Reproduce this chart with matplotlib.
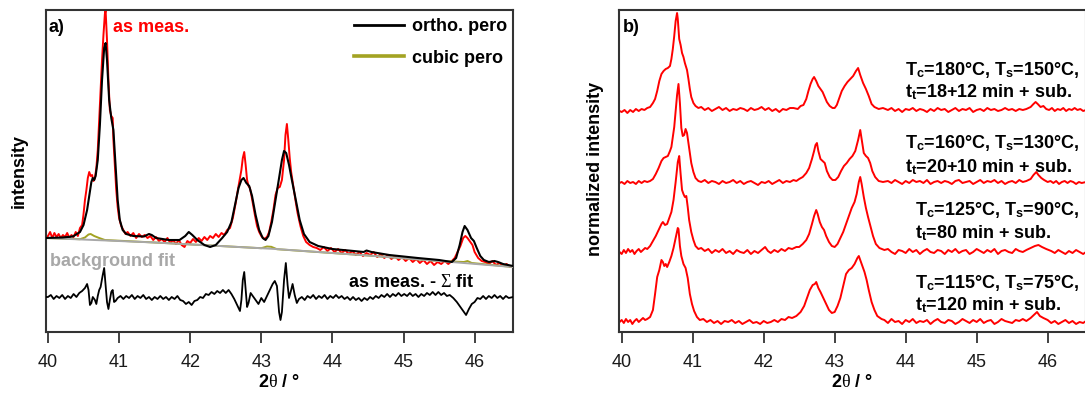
import matplotlib
matplotlib.use("Agg")
import matplotlib.pyplot as plt
from matplotlib.font_manager import FontProperties

plt.rcParams['font.family'] = ['Liberation Sans', 'DejaVu Sans']
plt.rcParams['mathtext.fontset'] = 'custom'
plt.rcParams['mathtext.rm'] = 'Liberation Serif'
plt.rcParams['mathtext.it'] = 'Liberation Serif'
plt.rcParams['mathtext.bf'] = 'Liberation Sans:bold'

# ---------------- panel a: measured pattern and fit (2theta in deg, intensity a.u.)
meas_a = [
    (39.97, 95), (40.00, 96), (40.03, 100), (40.06, 94), (40.09, 99), (40.12, 95), (40.15, 98), (40.18, 94),
    (40.21, 97), (40.24, 95), (40.27, 99), (40.30, 94), (40.33, 97), (40.36, 95), (40.39, 100), (40.42, 96),
    (40.45, 104), (40.48, 107), (40.50, 118), (40.52, 132), (40.54, 142), (40.56, 154), (40.58, 160),
    (40.60, 156), (40.62, 157), (40.64, 151), (40.66, 154), (40.68, 164), (40.70, 182), (40.72, 212),
    (40.74, 242), (40.76, 272), (40.78, 297), (40.80, 318), (40.81, 322), (40.83, 292), (40.85, 252),
    (40.87, 222), (40.89, 216), (40.91, 214), (40.92, 192), (40.94, 167), (40.96, 142), (40.98, 125),
    (41.00, 114), (41.03, 106), (41.06, 102), (41.09, 98), (41.12, 100), (41.16, 96), (41.20, 99), (41.24, 94),
    (41.28, 98), (41.32, 95), (41.36, 97), (41.40, 94), (41.44, 96), (41.48, 92), (41.52, 95), (41.56, 91),
    (41.60, 93), (41.64, 90), (41.68, 94), (41.72, 89), (41.76, 92), (41.80, 88), (41.84, 92), (41.88, 87),
    (41.92, 85), (41.96, 91), (42.00, 89), (42.04, 93), (42.08, 90), (42.12, 94), (42.16, 91), (42.20, 95),
    (42.24, 92), (42.28, 96), (42.32, 94), (42.36, 98), (42.40, 95), (42.44, 99), (42.48, 97), (42.52, 102),
    (42.56, 104), (42.60, 114), (42.64, 129), (42.67, 142), (42.70, 154), (42.72, 162), (42.74, 174),
    (42.76, 180), (42.78, 167), (42.80, 152), (42.82, 146), (42.84, 144), (42.86, 137), (42.88, 129),
    (42.91, 117), (42.94, 106), (42.97, 100), (43.00, 96), (43.04, 93), (43.08, 95), (43.11, 100),
    (43.14, 110), (43.17, 122), (43.20, 137), (43.23, 144), (43.26, 145), (43.29, 152), (43.32, 172),
    (43.34, 197), (43.36, 208), (43.38, 192), (43.40, 174), (43.42, 160), (43.45, 146), (43.48, 132),
    (43.51, 119), (43.55, 106), (43.59, 96), (43.63, 90), (43.68, 87), (43.73, 85), (43.78, 84), (43.83, 82),
    (43.88, 85), (43.93, 81), (43.98, 84), (44.03, 80), (44.08, 83), (44.13, 79), (44.18, 82), (44.23, 78),
    (44.28, 81), (44.33, 77), (44.38, 80), (44.43, 76), (44.48, 79), (44.53, 77), (44.58, 80), (44.63, 75),
    (44.68, 78), (44.73, 74), (44.78, 77), (44.83, 73), (44.88, 76), (44.93, 72), (44.98, 75), (45.03, 71),
    (45.08, 74), (45.13, 70), (45.18, 73), (45.23, 69), (45.28, 72), (45.33, 68), (45.38, 71), (45.43, 67),
    (45.48, 70), (45.53, 68), (45.58, 71), (45.63, 68), (45.68, 71), (45.72, 74), (45.76, 80), (45.80, 86),
    (45.84, 94), (45.87, 96), (45.90, 94), (45.94, 90), (45.97, 87), (46.00, 80), (46.05, 74), (46.10, 71),
    (46.15, 70), (46.20, 68), (46.25, 71), (46.30, 67), (46.35, 69), (46.40, 66), (46.45, 68), (46.50, 65),
    (46.54, 66),
]

ortho_fit = [
    (39.97, 94), (40.20, 94.5), (40.35, 95.5), (40.45, 100), (40.50, 107), (40.55, 122), (40.58, 136),
    (40.61, 150), (40.63, 154), (40.65, 152), (40.67, 156), (40.70, 172), (40.73, 207), (40.76, 252),
    (40.79, 284), (40.81, 289), (40.83, 272), (40.86, 232), (40.89, 214), (40.92, 202), (40.95, 167),
    (40.98, 132), (41.01, 112), (41.05, 102), (41.10, 98), (41.20, 96), (41.35, 95.5), (41.42, 98),
    (41.46, 97), (41.52, 94), (41.70, 92), (41.85, 92), (41.93, 96), (41.98, 100), (42.03, 97), (42.10, 92),
    (42.20, 87), (42.28, 85), (42.36, 87), (42.45, 94), (42.52, 100), (42.58, 110), (42.63, 127), (42.68, 144),
    (42.72, 152), (42.75, 154), (42.79, 149), (42.83, 146), (42.87, 136), (42.92, 117), (42.97, 102),
    (43.02, 94), (43.06, 92), (43.10, 96), (43.15, 110), (43.20, 132), (43.25, 154), (43.29, 172),
    (43.32, 181), (43.35, 179), (43.39, 167), (43.43, 152), (43.48, 134), (43.54, 112), (43.60, 98),
    (43.68, 90), (43.80, 86), (44.00, 83), (44.30, 81), (44.44, 80), (44.48, 81.5), (44.55, 80), (44.80, 77),
    (45.20, 74), (45.50, 72), (45.68, 70), (45.74, 74), (45.79, 87), (45.83, 100), (45.86, 106), (45.90, 102),
    (45.95, 94), (45.99, 91), (46.03, 84), (46.08, 76), (46.13, 72), (46.20, 70), (46.28, 71), (46.33, 70),
    (46.40, 68), (46.54, 66),
]

cubic_fit = [
    (39.97, 94), (40.45, 92.8), (40.52, 94.5), (40.57, 97.5), (40.60, 98), (40.65, 96), (40.72, 94),
    (40.80, 92), (41.50, 89.5), (43.00, 83.8), (43.08, 85.5), (43.14, 85.2), (43.22, 82.8), (44.50, 76.5),
    (45.50, 71), (45.85, 70), (45.90, 71), (45.96, 69), (46.54, 65),
]

background = [(39.97, 94), (41.50, 89.5), (43.20, 83), (44.50, 76.5), (45.50, 71), (46.54, 65)]

residual = [
    (39.97, 35), (40.00, 35), (40.04, 37), (40.08, 33), (40.12, 36), (40.16, 34), (40.20, 37), (40.24, 33),
    (40.28, 36), (40.32, 34), (40.36, 38), (40.40, 35), (40.44, 39), (40.48, 41), (40.52, 44), (40.55, 48),
    (40.57, 42), (40.59, 27), (40.61, 29), (40.63, 35), (40.66, 32), (40.68, 28), (40.70, 36), (40.72, 42),
    (40.74, 45), (40.77, 57), (40.79, 64), (40.81, 47), (40.83, 30), (40.85, 23), (40.87, 32), (40.89, 40),
    (40.91, 42), (40.93, 30), (40.95, 31), (40.98, 34), (41.02, 36), (41.06, 33), (41.10, 36), (41.14, 34),
    (41.18, 37), (41.22, 33), (41.26, 36), (41.30, 34), (41.34, 37), (41.38, 33), (41.42, 35), (41.46, 32),
    (41.50, 35), (41.54, 33), (41.58, 36), (41.62, 33), (41.66, 35), (41.70, 32), (41.74, 35), (41.78, 33),
    (41.82, 36), (41.86, 32), (41.90, 31), (41.94, 28), (41.98, 30), (42.02, 27), (42.06, 31), (42.10, 32),
    (42.14, 35), (42.18, 34), (42.22, 38), (42.26, 37), (42.30, 40), (42.34, 38), (42.38, 41), (42.42, 39),
    (42.46, 42), (42.50, 39), (42.54, 42), (42.58, 38), (42.62, 33), (42.66, 27), (42.70, 21), (42.72, 32),
    (42.74, 52), (42.76, 60), (42.78, 42), (42.80, 25), (42.82, 29), (42.85, 39), (42.88, 36), (42.92, 32),
    (42.96, 28), (43.00, 34), (43.04, 30), (43.08, 36), (43.12, 42), (43.16, 48), (43.19, 51), (43.22, 46),
    (43.25, 20), (43.27, 12), (43.29, 20), (43.32, 52), (43.345, 69), (43.37, 47), (43.39, 34), (43.42, 42),
    (43.44, 48), (43.47, 37), (43.50, 29), (43.53, 33), (43.57, 35), (43.61, 32), (43.65, 36), (43.69, 34),
    (43.73, 37), (43.77, 33), (43.81, 36), (43.85, 34), (43.89, 37), (43.93, 33), (43.97, 36), (44.01, 34),
    (44.05, 37), (44.09, 34), (44.13, 36), (44.17, 33), (44.21, 35), (44.25, 32), (44.29, 35), (44.33, 32),
    (44.37, 34), (44.41, 31), (44.45, 34), (44.49, 32), (44.53, 35), (44.57, 33), (44.61, 36), (44.65, 34),
    (44.69, 37), (44.73, 35), (44.77, 38), (44.81, 35), (44.85, 38), (44.89, 36), (44.93, 39), (44.97, 36),
    (45.01, 38), (45.05, 36), (45.09, 39), (45.13, 36), (45.17, 38), (45.21, 35), (45.25, 38), (45.29, 36),
    (45.33, 39), (45.37, 37), (45.41, 40), (45.45, 37), (45.49, 40), (45.53, 37), (45.57, 39), (45.61, 36),
    (45.65, 37), (45.70, 34), (45.75, 30), (45.80, 25), (45.85, 20), (45.88, 17), (45.92, 23), (45.96, 28),
    (46.00, 30), (46.04, 34), (46.08, 33), (46.12, 36), (46.16, 33), (46.20, 36), (46.24, 34), (46.28, 37),
    (46.32, 34), (46.36, 36), (46.40, 33), (46.44, 36), (46.48, 34), (46.54, 35),
]

# ---------------- panel b: normalized patterns (signal above each baseline)
scan_180_150 = [
    (39.97, 0), (40.00, -1), (40.04, 1), (40.08, -2), (40.12, 1), (40.16, -1), (40.20, 2), (40.24, 0),
    (40.28, 2), (40.32, 1), (40.36, 3), (40.40, 4), (40.44, 8), (40.47, 12), (40.50, 20), (40.53, 30),
    (40.56, 37), (40.59, 40), (40.62, 42), (40.65, 43), (40.68, 45), (40.70, 52), (40.72, 62), (40.74, 75),
    (40.76, 90), (40.78, 98), (40.79, 92), (40.81, 72), (40.83, 66), (40.85, 58), (40.87, 54), (40.89, 48),
    (40.92, 41), (40.94, 32), (40.96, 22), (40.98, 14), (41.01, 8), (41.04, 5), (41.08, 3),
    (41.12, 4), (41.17, 1), (41.22, 3), (41.27, 0), (41.32, 2), (41.37, 4), (41.42, 1), (41.47, 3), (41.52, 0),
    (41.57, 2), (41.62, 1), (41.67, 3), (41.72, 2), (41.77, 0), (41.82, 3), (41.87, 1), (41.92, 2), (41.97, 4),
    (42.02, 1), (42.07, 3), (42.12, 0), (42.17, 2), (42.22, -1), (42.27, 2), (42.32, 1), (42.37, 3),
    (42.42, 3), (42.48, 2), (42.52, 5), (42.56, 6), (42.60, 12), (42.63, 20), (42.66, 27), (42.69, 32),
    (42.71, 34), (42.74, 30), (42.77, 25), (42.80, 22), (42.83, 19), (42.86, 14), (42.89, 9), (42.93, 5),
    (42.97, 3), (43.00, 3), (43.03, 6), (43.06, 12), (43.10, 20), (43.14, 25), (43.18, 29), (43.22, 32),
    (43.26, 35), (43.30, 40), (43.33, 43), (43.36, 36), (43.40, 28), (43.44, 22), (43.48, 15), (43.52, 7),
    (43.56, 4), (43.62, 2), (43.68, 3),
    (43.75, 1), (43.80, 3), (43.85, 0), (43.90, 2), (43.95, -1), (44.00, 2), (44.05, 1), (44.10, 3),
    (44.15, 0), (44.20, 2), (44.25, 1), (44.30, -1), (44.35, 2), (44.40, 0), (44.45, 3), (44.50, 1),
    (44.55, 2), (44.60, -1), (44.65, 1), (44.70, 3), (44.75, 0), (44.80, 2), (44.85, 1), (44.90, 3),
    (44.95, -1), (45.00, 1), (45.05, 2), (45.10, 0), (45.15, 3), (45.20, 1), (45.25, 2), (45.30, 0),
    (45.35, 1), (45.40, 3), (45.45, 1), (45.50, 2), (45.55, 0), (45.60, 2), (45.65, 1), (45.70, 2),
    (45.76, 4), (45.80, 7), (45.83, 9), (45.86, 7), (45.90, 4), (45.94, 5), (45.98, 2), (46.02, 1),
    (46.06, 3), (46.10, 0), (46.14, 2), (46.18, 1), (46.22, 3), (46.26, 0), (46.30, 2), (46.34, 1),
    (46.38, 3), (46.42, 1), (46.46, 2), (46.50, 0), (46.54, 1),
]

scan_160_130 = [
    (39.97, 0), (40.00, 1), (40.04, -1), (40.08, 2), (40.12, 0), (40.16, 1), (40.20, -1), (40.24, 2),
    (40.28, 0), (40.32, 2), (40.36, 1), (40.40, 2), (40.44, 4), (40.48, 9), (40.52, 15), (40.56, 22),
    (40.59, 25), (40.62, 26), (40.65, 27), (40.68, 32), (40.70, 36), (40.72, 46), (40.74, 56), (40.76, 72),
    (40.78, 88), (40.80, 99), (40.82, 80), (40.84, 55), (40.86, 47), (40.88, 48), (40.90, 54), (40.92, 50),
    (40.94, 40), (40.96, 30), (40.98, 20), (41.01, 11), (41.04, 5), (41.08, 2),
    (41.12, 1), (41.17, 3), (41.22, 0), (41.27, 2), (41.32, 1), (41.37, -1), (41.42, 2), (41.47, 0),
    (41.52, 1), (41.57, 3), (41.62, 0), (41.67, 2), (41.72, -1), (41.77, 1), (41.82, 2), (41.87, 0),
    (41.92, -2), (41.97, 1), (42.02, 0), (42.07, 2), (42.12, -1), (42.17, 1), (42.22, 3), (42.27, 0),
    (42.32, 2), (42.37, 1), (42.42, 3), (42.46, 2), (42.50, 4), (42.55, 6), (42.60, 10), (42.64, 15),
    (42.68, 24), (42.71, 32), (42.73, 38), (42.75, 40), (42.77, 32), (42.80, 24), (42.83, 22), (42.86, 20),
    (42.89, 12), (42.93, 6), (42.97, 3), (43.01, 3), (43.05, 6), (43.09, 12), (43.13, 17), (43.17, 20),
    (43.21, 24), (43.25, 27), (43.29, 32), (43.33, 43), (43.36, 53), (43.38, 44), (43.41, 30), (43.44, 27),
    (43.47, 25), (43.50, 20), (43.53, 12), (43.57, 6), (43.62, 2), (43.68, 1),
    (43.75, 2), (43.80, 0), (43.85, 3), (43.90, 1), (43.95, -1), (44.00, 2), (44.05, 0), (44.10, 3),
    (44.15, 1), (44.20, 2), (44.25, 0), (44.30, 3), (44.35, -1), (44.40, 1), (44.45, 2), (44.50, 0),
    (44.55, 2), (44.60, 1), (44.65, -1), (44.70, 2), (44.75, 3), (44.80, 0), (44.85, 1), (44.90, 2),
    (44.95, -1), (45.00, 1), (45.05, 3), (45.10, 0), (45.15, 2), (45.20, 1), (45.25, 3), (45.30, 0),
    (45.35, 2), (45.40, -1), (45.45, 1), (45.50, 2), (45.55, 0), (45.60, 3), (45.65, 1), (45.70, 2),
    (45.76, 4), (45.80, 8), (45.84, 11), (45.87, 8), (45.91, 5), (45.95, 3), (46.00, 1), (46.04, 2),
    (46.08, 0), (46.12, 2), (46.16, -1), (46.20, 1), (46.24, 2), (46.28, 0), (46.32, 2), (46.36, 1),
    (46.40, -1), (46.44, 1), (46.48, 0), (46.54, 1),
]

scan_125_90 = [
    (39.97, 0), (40.00, -2), (40.03, 2), (40.06, -1), (40.09, 3), (40.12, 0), (40.15, 2), (40.18, -2),
    (40.21, 1), (40.24, 3), (40.27, 0), (40.30, 2), (40.33, 4), (40.36, 3), (40.40, 6), (40.44, 11),
    (40.48, 16), (40.52, 22), (40.56, 28), (40.58, 30), (40.61, 27), (40.64, 28), (40.67, 34), (40.70, 40),
    (40.73, 52), (40.76, 70), (40.79, 90), (40.81, 96), (40.83, 78), (40.85, 62), (40.87, 58), (40.89, 55),
    (40.91, 56), (40.93, 45), (40.95, 32), (40.98, 20), (41.01, 12), (41.04, 6), (41.08, 3),
    (41.12, 4), (41.17, 1), (41.22, 3), (41.27, -1), (41.32, 2), (41.37, 0), (41.42, 3), (41.47, -1),
    (41.52, 1), (41.57, -2), (41.62, 2), (41.67, 0), (41.72, -1), (41.77, 2), (41.82, -2), (41.87, 1),
    (41.92, -1), (41.97, 2), (42.02, 5), (42.06, 1), (42.10, -1), (42.15, 2), (42.20, 0), (42.25, 3),
    (42.30, 1), (42.35, 4), (42.40, 3), (42.46, 5), (42.50, 5), (42.55, 8), (42.60, 12), (42.64, 18),
    (42.68, 28), (42.71, 36), (42.74, 42), (42.76, 38), (42.79, 30), (42.82, 25), (42.85, 22), (42.88, 16),
    (42.92, 10), (42.96, 6), (43.00, 5), (43.04, 8), (43.08, 14), (43.12, 20), (43.16, 28), (43.20, 36),
    (43.24, 44), (43.28, 50), (43.31, 58), (43.34, 70), (43.36, 75), (43.38, 68), (43.41, 55), (43.44, 44),
    (43.47, 35), (43.50, 27), (43.54, 16), (43.58, 8), (43.63, 4), (43.70, 2),
    (43.75, 3), (43.80, 0), (43.85, -2), (43.90, 2), (43.95, 1), (44.00, -1), (44.05, 3), (44.10, 0),
    (44.15, 2), (44.20, -2), (44.25, 1), (44.30, 3), (44.35, 0), (44.40, -1), (44.45, 2), (44.50, 1),
    (44.55, -2), (44.60, 2), (44.65, 0), (44.70, 3), (44.75, -1), (44.80, 1), (44.85, 2), (44.90, -2),
    (44.95, 0), (45.00, 3), (45.05, 1), (45.10, -1), (45.15, 2), (45.20, 0), (45.25, 3), (45.30, -2),
    (45.35, 1), (45.40, 2), (45.45, 0), (45.50, -1), (45.55, 3), (45.60, 1), (45.65, 0), (45.70, 2),
    (45.76, 4), (45.82, 6), (45.87, 7), (45.92, 5), (45.98, 3), (46.05, 1), (46.10, -1), (46.15, 2),
    (46.20, 0), (46.25, -2), (46.30, 1), (46.35, -1), (46.40, 2), (46.45, 0), (46.50, -2), (46.54, 0),
]

scan_115_75 = [
    (39.97, 0), (40.00, 2), (40.03, -1), (40.06, 3), (40.09, 0), (40.12, 2), (40.15, -2), (40.18, 1),
    (40.21, 3), (40.24, 0), (40.27, 2), (40.30, 4), (40.33, 2), (40.36, 3), (40.40, 5), (40.44, 12),
    (40.47, 28), (40.50, 45), (40.53, 52), (40.56, 62), (40.58, 60), (40.60, 56), (40.62, 58), (40.64, 55),
    (40.67, 60), (40.70, 66), (40.73, 74), (40.76, 84), (40.79, 94), (40.80, 93), (40.82, 76), (40.84, 66),
    (40.87, 58), (40.90, 54), (40.93, 44), (40.96, 28), (40.99, 18), (41.02, 11), (41.06, 5), (41.10, 2),
    (41.15, 3), (41.20, 0), (41.25, 2), (41.30, -1), (41.35, 1), (41.40, -2), (41.45, 1), (41.50, 0),
    (41.55, 2), (41.60, -1), (41.65, 1), (41.70, -2), (41.75, 0), (41.80, 2), (41.85, -1), (41.90, 0),
    (41.95, -2), (42.00, 1), (42.05, -1), (42.10, 0), (42.15, 2), (42.20, 0), (42.25, 3), (42.30, 2),
    (42.35, 5), (42.40, 4), (42.46, 6), (42.52, 10), (42.57, 16), (42.61, 24), (42.65, 32), (42.69, 37),
    (42.72, 38), (42.74, 40), (42.77, 34), (42.80, 30), (42.84, 24), (42.88, 18), (42.92, 12), (42.96, 9),
    (43.00, 10), (43.04, 16), (43.08, 24), (43.12, 36), (43.16, 48), (43.20, 52), (43.24, 54), (43.28, 58),
    (43.32, 64), (43.34, 66), (43.36, 62), (43.39, 56), (43.42, 50), (43.45, 42), (43.48, 32), (43.52, 20),
    (43.56, 12), (43.60, 6), (43.66, 3),
    (43.70, 2), (43.75, -1), (43.80, 3), (43.85, 0), (43.90, 1), (43.95, -2), (44.00, 2), (44.05, 0),
    (44.10, 3), (44.15, -1), (44.20, 1), (44.25, 0), (44.30, 2), (44.35, -2), (44.40, 1), (44.45, 3),
    (44.50, 0), (44.55, -1), (44.60, 2), (44.65, 1), (44.70, -2), (44.75, 0), (44.80, 3), (44.85, 1),
    (44.90, -1), (44.95, 2), (45.00, 0), (45.05, 3), (45.10, -1), (45.15, 1), (45.20, 2), (45.25, -2),
    (45.30, 0), (45.35, 3), (45.40, 1), (45.45, 0), (45.50, -1), (45.55, 2), (45.60, 1), (45.65, 3),
    (45.70, 1), (45.76, 4), (45.82, 8), (45.85, 10), (45.89, 6), (45.94, 4), (46.00, 2), (46.05, -1),
    (46.10, 1), (46.15, -2), (46.20, 0), (46.25, 2), (46.30, -1), (46.35, 1), (46.40, -2), (46.45, 0),
    (46.50, -1), (46.54, 1),
]

scans_b = [scan_180_150, scan_160_130, scan_125_90, scan_115_75]
labels_b = [
    (r"T$_\mathbf{c}$=180°C, T$_\mathbf{s}$=150°C,", r"t$_\mathbf{t}$=18+12 min + sub."),
    (r"T$_\mathbf{c}$=160°C, T$_\mathbf{s}$=130°C,", r"t$_\mathbf{t}$=20+10 min + sub."),
    (r"T$_\mathbf{c}$=125°C, T$_\mathbf{s}$=90°C,", r"t$_\mathbf{t}$=80 min + sub."),
    (r"T$_\mathbf{c}$=115°C, T$_\mathbf{s}$=75°C,", r"t$_\mathbf{t}$=120 min + sub."),
]
xticks = [40, 41, 42, 43, 44, 45, 46]

# ---------------- drawing
RED = '#ff0000'
OLIVE = '#a3a323'
GREY = '#a8a8a8'
SPINE = '#333333'
FS = 13


def unzip(pts):
    return [p[0] for p in pts], [p[1] for p in pts]


fig = plt.figure(figsize=(10.85, 3.94), dpi=100)
ax1 = fig.add_axes([46 / 1085, 62 / 394, 467 / 1085, 322 / 394])
ax2 = fig.add_axes([619 / 1085, 62 / 394, 467 / 1085, 322 / 394])

for ax, xlim in ((ax1, (39.972, 46.54)), (ax2, (39.962, 46.54))):
    ax.set_xlim(*xlim)
    ax.set_ylim(0, 322)
    ax.set_yticks([])
    ax.set_xticks(xticks)
    ax.set_xticklabels([str(t) for t in xticks])
    ax.tick_params(axis='x', direction='out', length=8, width=1.3, color=SPINE,
                   labelsize=FS, pad=8, labelcolor='#1a1a1a')
    for s in ax.spines.values():
        s.set_linewidth(1.5)
        s.set_color(SPINE)
    ax.set_xlabel(r"2$\mathrm{\theta}$ / °", fontsize=FS, fontweight='bold', labelpad=2)

# panel a
x, y = unzip(meas_a)
ax1.plot(x, y, color=RED, lw=1.4, zorder=2)
x, y = unzip(cubic_fit)
l_cub, = ax1.plot(x, y, color=OLIVE, lw=1.4, zorder=3)
x, y = unzip(background)
ax1.plot(x, y, color=GREY, lw=1.4, zorder=3)
x, y = unzip(ortho_fit)
l_fit, = ax1.plot(x, y, color='black', lw=1.5, zorder=4)
x, y = unzip(residual)
ax1.plot(x, y, color='black', lw=1.3, zorder=4)

bold = dict(fontsize=FS, fontweight='bold', transform=ax1.transAxes, va='baseline')
ax1.text(0.0064, 0.9317, "a)", color='black', **bold)
ax1.text(0.1428, 0.9317, "as meas.", color=RED, **bold)
ax1.text(0.0086, 0.205, "background fit", color=GREY, **bold)
ax1.text(0.6467, 0.1398, r"as meas. - $\mathrm{\Sigma}$ fit", color='black', **bold)

ax1.legend(handles=[l_fit, l_cub], labels=["ortho. pero", "cubic pero"], loc='upper right',
           bbox_to_anchor=(1.0, 0.995), frameon=False,
           prop=FontProperties(family='Liberation Sans', weight='bold', size=FS),
           handlelength=2.8, handletextpad=0.4, labelspacing=0.82, borderaxespad=0.15,
           borderpad=0.2)
ax1.get_legend().get_lines()[0].set_linewidth(2.0)
ax1.get_legend().get_lines()[1].set_linewidth(2.6)

# panel b
offsets = [221, 149, 80, 10]
text_pos = [(0.613, 0.7981, 0.7298), (0.613, 0.5714, 0.4969),
            (0.634, 0.3634, 0.2919), (0.634, 0.1366, 0.0683)]
for scan, off, (l1, l2), (tx, ty1, ty2) in zip(scans_b, offsets, labels_b, text_pos):
    x, y = unzip(scan)
    ax2.plot(x, [v + off for v in y], color=RED, lw=1.4)
    ax2.text(tx, ty1, l1, transform=ax2.transAxes, fontsize=FS, fontweight='bold', va='baseline')
    ax2.text(tx, ty2, l2, transform=ax2.transAxes, fontsize=FS, fontweight='bold', va='baseline')
ax2.text(0.0086, 0.9317, "b)", fontsize=FS, fontweight='bold', transform=ax2.transAxes, va='baseline')

fig.text(19 / 1085, 1 - 171 / 394, "intensity", rotation=90, ha='center', va='center',
         fontsize=FS, fontweight='bold')
fig.text(595 / 1085, 1 - 169 / 394, "normalized intensity", rotation=90, ha='center', va='center',
         fontsize=FS, fontweight='bold')

fig.savefig("out.png", dpi=100)
